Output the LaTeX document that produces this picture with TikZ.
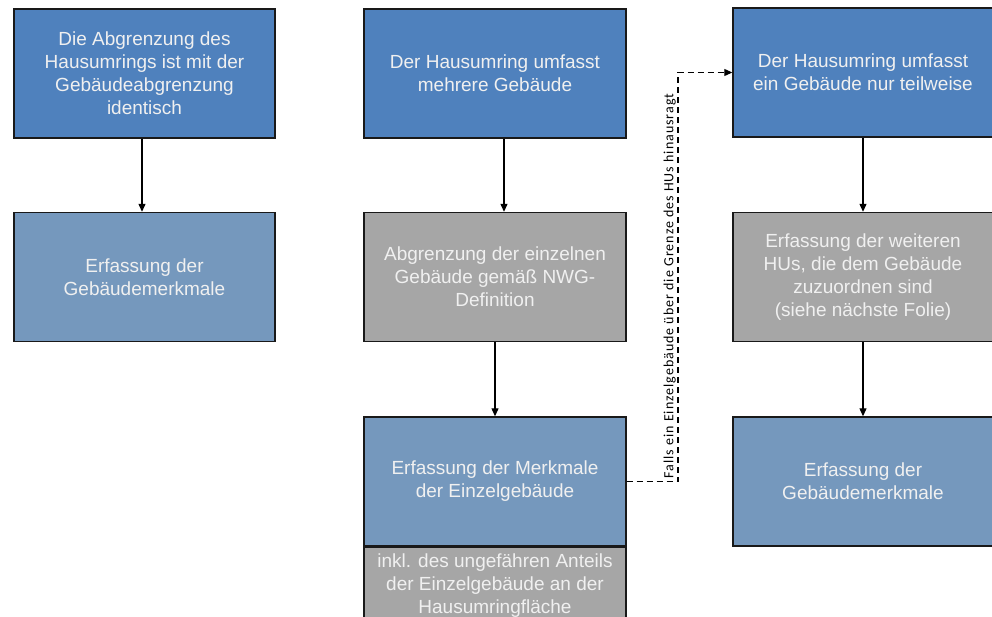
\documentclass[tikz,border=0pt]{standalone}
\usepackage{fontspec}
\setmainfont{Liberation Sans}
\newfontfamily\randfont[LetterSpace=7]{Carlito}
\usetikzlibrary{arrows.meta}
\definecolor{kopfblau}{HTML}{4F81BD}
\definecolor{merkblau}{HTML}{7598BD}
\definecolor{grau}{HTML}{A6A6A6}
\begin{document}
\begin{tikzpicture}[x=1pt,y=-1pt,
  box/.style={draw=black!90,line width=1.4pt,text=white!94!black,align=center,
    font=\fontsize{19}{23}\selectfont,minimum width=261pt,minimum height=129pt,inner sep=0pt},
  kopf/.style={box,fill=kopfblau},
  merk/.style={box,fill=merkblau},
  zwischen/.style={box,fill=grau},
  pfeil/.style={-{Triangle[length=8pt,width=7pt]},line width=1.2pt,black}]
\useasboundingbox (0,0) rectangle (992,617);

\node[kopf] (l1) at (144.5,73.5) {Die Abgrenzung des\\Hausumrings ist mit der\\Gebäudeabgrenzung\\identisch};
\node[merk] (l2) at (144.5,277) {Erfassung der\\Gebäudemerkmale};

\node[kopf,minimum width=262pt] (m1) at (495,73.5) {Der Hausumring umfasst\\mehrere Gebäude};
\node[zwischen,minimum width=262pt] (m2) at (495,277) {Abgrenzung der einzelnen\\Gebäude gemäß NWG-\\Definition};
\node[merk,minimum width=262pt] (m3) at (495,481.5) {Erfassung der Merkmale\\der Einzelgebäude};
\node[zwischen,minimum width=262pt,minimum height=0pt,inner ysep=6pt,anchor=north] (m4) at (m3.south) {inkl. des ungefähren Anteils\\der Einzelgebäude an der\\Hausumringfläche};

\node[kopf,minimum width=260pt] (r1) at (863,72.5) {Der Hausumring umfasst\\ein Gebäude nur teilweise};
\node[zwischen,minimum width=260pt] (r2) at (863,277) {Erfassung der weiteren\\HUs, die dem Gebäude\\zuzuordnen sind\\(siehe nächste Folie)};
\node[merk,minimum width=260pt] (r3) at (863,481.5) {Erfassung der\\Gebäudemerkmale};

\draw[pfeil] ([xshift=-2.5pt]l1.south) -- ([xshift=-2.5pt]l2.north);
\draw[pfeil] ([xshift=9pt]m1.south) -- ([xshift=9pt]m2.north);
\draw[pfeil] (m2) -- (m3);
\draw[pfeil] (r1) -- (r2);
\draw[pfeil] (r2) -- (r3);

\coordinate (knick) at (678,72.5);
\draw[pfeil,line width=1.1pt,dash pattern=on 6pt off 4pt] (m3.east) -- (m3.east -| knick) |- (r1.west);
\node[rotate=90,anchor=south,inner sep=1pt,font=\randfont\fontsize{14}{16}\selectfont] (bedingung) at (677,286) {Falls ein Einzelgebäude über die Grenze des HUs hinausragt};
\end{tikzpicture}
\end{document}
